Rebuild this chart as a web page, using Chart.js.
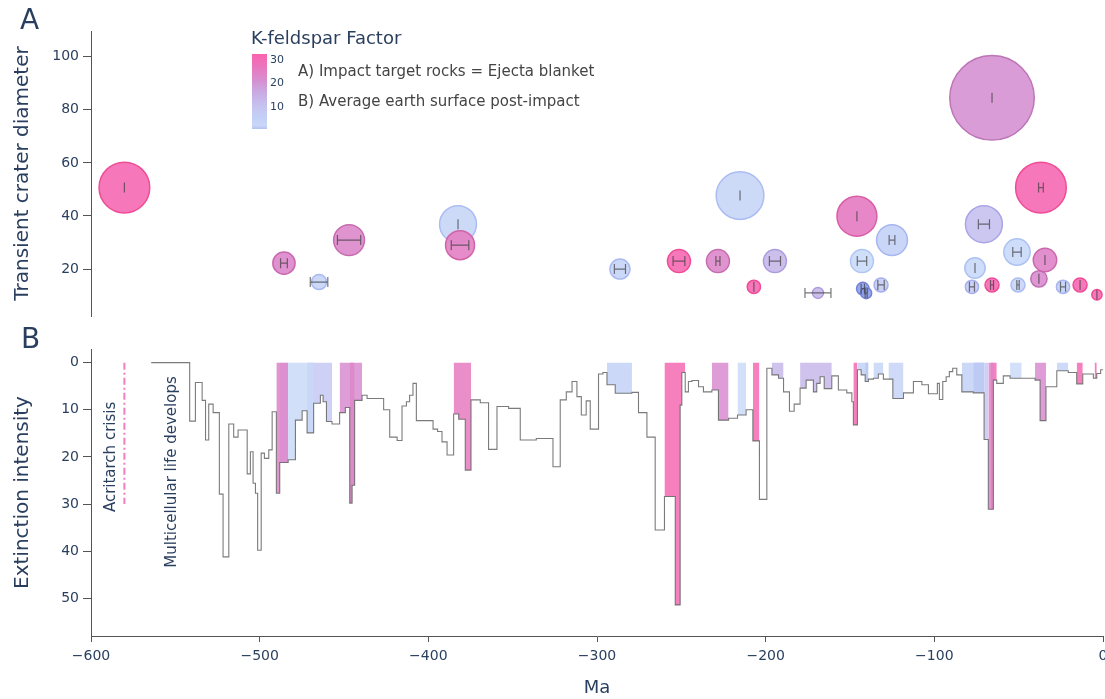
<!DOCTYPE html>
<html>
<head>
<meta charset="utf-8">
<script src="https://cdn.jsdelivr.net/npm/chart.js@4.4.0/dist/chart.umd.min.js"></script>
<style>
  body { margin: 0; background: #fff; }
  #wrap { position: relative; width: 1105px; height: 699px; }
  canvas { position: absolute; left: 0; }
  #top { top: 0; }
  #bottom { top: 320px; }
</style>
</head>
<body>
<div id="wrap">
  <canvas id="top" width="1105" height="320"></canvas>
  <canvas id="bottom" width="1105" height="379"></canvas>
</div>
<script>
// --- impacts (panel A) ---
const craterAge = [-580.2, -485.6, -464.8, -447.0, -382.4, -381.2, -286.4, -251.4, -228.3, -215.2, -207.0, -194.5, -169.0, -145.9, -142.9, -142.4, -140.4, -131.6, -125.1, -77.7, -75.9, -70.6, -65.8, -65.8, -51.0, -50.4, -38.0, -36.8, -34.4, -23.7, -13.6, -3.6];
const craterDiam = [50.7, 22.2, 15.1, 30.9, 36.9, 29.0, 20.0, 23.0, 23.0, 47.7, 13.3, 23.0, 11.0, 39.9, 23.0, 12.6, 10.9, 14.0, 30.9, 13.3, 20.4, 36.9, 84.5, 14.0, 26.4, 14.0, 16.3, 50.7, 23.4, 13.3, 14.0, 10.3];
const craterK = [31, 23.5, 4, 23, 3, 25, 4, 31, 23, 3, 31, 13, 13, 26, 1, 0, 0, 7, 5, 7, 2, 11, 21, 31, 2, 3, 22, 31, 24, 5, 31, 31];
const craterAgeErr = [0, 2, 5.2, 6.9, 0, 5.2, 3.3, 3.5, 1.2, 0, 0, 3.3, 7.7, 0, 2.8, 1.0, 0.6, 1.9, 1.7, 1.5, 0, 3.3, 0, 0.9, 2.5, 0.7, 0, 1.4, 0, 1.5, 0, 0];

// --- extinction intensity step series (panel B) ---
const stepStart = [-564.3, -541.5, -538.1, -534.1, -532.1, -530.2, -527.6, -523.9, -521.7, -518.3,
  -515.4, -512.8, -507.4, -505.5, -503.9, -502.5, -501.2, -499.1, -497.2, -494.6,
  -492.6, -490.1, -488.1, -483.1, -478.8, -474.8, -471.9, -468.0, -464.0, -462.4,
  -460.4, -457.1, -452.6, -449.2, -446.6, -445.2, -443.7, -439.3, -436.3, -426.5,
  -422.9, -418.5, -415.6, -413.0, -411.1, -409.1, -407.1, -397.2, -394.5, -391.9,
  -388.9, -385.0, -382.0, -378.1, -374.7, -369.2, -364.3, -359.3, -352.4, -345.5,
  -336.0, -326.1, -321.8, -318.2, -314.8, -311.9, -309.3, -306.4, -304.0, -299.1,
  -296.5, -294.1, -289.2, -279.3, -275.4, -270.4, -265.5, -260.0, -253.6, -250.7,
  -249.7, -247.7, -245.8, -243.7, -239.8, -236.9, -231.9, -228.0, -222.0, -216.7,
  -211.6, -207.6, -203.7, -199.3, -196.3, -192.4, -189.4, -185.9, -183.1, -179.6,
  -176.0, -171.7, -169.7, -167.7, -165.3, -160.8, -156.9, -151.9, -148.9, -148.0,
  -145.6, -143.4, -141.0, -139.1, -136.1, -133.2, -130.2, -124.6, -118.3, -112.4,
  -107.4, -103.5, -98.2, -97.0, -95.0, -93.0, -91.1, -89.1, -86.7, -83.7,
  -76.9, -70.5, -68.0, -65.0, -63.0, -59.1, -55.1, -40.3, -37.3, -33.8,
  -27.4, -20.6, -15.6, -12.0, -5.7, -3.7, -1.4];
const stepLevel = [0, 12.4, 4.2, 8.0, 16.4, 8.8, 10.6, 27.9, 41.2, 13.0,
  15.8, 14.3, 23.6, 18.9, 25.6, 27.7, 39.8, 19.2, 20.3, 18.5,
  10.4, 27.7, 21.2, 20.6, 12.2, 10.2, 14.9, 8.6, 6.9, 8.3,
  12.5, 13.0, 10.6, 9.5, 29.8, 26.0, 8.0, 6.9, 7.6, 10.0,
  15.8, 16.5, 9.2, 8.3, 6.9, 4.4, 12.3, 14.1, 14.6, 16.8,
  19.6, 10.9, 12.0, 22.8, 7.9, 8.5, 18.4, 9.3, 9.7, 16.4,
  16.1, 22.1, 7.9, 6.2, 4.0, 7.2, 11.1, 8.1, 14.1, 2.4,
  2.1, 4.7, 6.5, 6.3, 10.6, 15.8, 35.5, 28.4, 51.4, 9.0,
  2.1, 6.2, 4.0, 3.8, 5.1, 6.2, 5.8, 12.2, 11.8, 11.1,
  10.0, 16.6, 29.0, 1.2, 2.6, 3.3, 6.2, 10.3, 8.8, 5.4,
  3.7, 6.2, 4.4, 3.0, 5.5, 2.8, 5.8, 6.4, 8.3, 13.2,
  1.5, 2.6, 4.0, 3.5, 3.3, 2.4, 3.5, 7.6, 6.4, 4.0,
  4.7, 6.6, 4.4, 7.8, 4.0, 3.0, 1.9, 1.2, 2.6, 6.2,
  6.4, 16.3, 31.1, 3.7, 4.4, 2.8, 3.3, 3.7, 12.3, 5.1,
  1.7, 2.1, 4.5, 2.4, 3.3, 2.3, 1.5];
const stepEnd = 0;

// impact age windows shaded under the extinction curve
const fillFrom = [-490.1, -488.1, -471.9, -452.6, -446.6, -385.0, -294.1, -260.0, -231.9, -216.7, -207.6, -196.3, -179.6, -148.0, -145.6, -141.0, -136.1, -127.2, -83.7, -76.9, -70.5, -68.0, -66.5, -55.1, -40.3, -27.4, -15.6, -5.0];
const fillTo   = [-483.1, -468.0, -457.1, -439.3, -443.7, -374.7, -279.3, -247.7, -222.0, -211.6, -203.7, -189.4, -160.8, -145.6, -139.1, -139.1, -130.2, -118.3, -70.5, -70.5, -68.0, -65.0, -63.0, -48.2, -33.8, -20.6, -12.0, -3.7];
const fillK    = [24, 2, 8, 22, 30, 26, 5, 31, 22, 1, 31, 13, 13, 31, 5, 0, 3, 4, 5, 0, 8, 24, 31, 1, 22, 4, 31, 31];

const acritarchAge = -580.2;
const acritarchSpan = [0, 30];

// ticks
const xTicks = [-600, -500, -400, -300, -200, -100, 0];
const topTicks = [20, 40, 60, 80, 100];
const bottomTicks = [0, 10, 20, 30, 40, 50];
const barTicks = [10, 20, 30];

// K-feldspar colour scale
const kStops = [0, 1, 5, 11, 16, 22, 27, 33];
const kColours = ['#8e9fe8', '#cbdbf8', '#c3d1f6', '#c6c1ef', '#c8abe3', '#d88ccf', '#ea76bd', '#fb62ad'];

function hexRgb(h) { return [1, 3, 5].map(i => parseInt(h.substr(i, 2), 16)); }
function kRgb(k) {
  let i = 0;
  while (i < kStops.length - 2 && k > kStops[i + 1]) i++;
  const t = Math.min(1, Math.max(0, (k - kStops[i]) / (kStops[i + 1] - kStops[i])));
  const a = hexRgb(kColours[i]), b = hexRgb(kColours[i + 1]);
  return a.map((v, j) => Math.round(v + (b[j] - v) * t));
}
function kColour(k, alpha) {
  const c = kRgb(k);
  return `rgba(${c[0]},${c[1]},${c[2]},${alpha})`;
}
// rim: same hue, a little deeper
function kRim(k) {
  const c = kRgb(k).map(v => Math.round(v - Math.min(28, (255 - v) * 0.6)));
  return `rgb(${c[0]},${c[1]},${c[2]})`;
}

function stepPoints(from, to) {
  const pts = [];
  for (let i = 0; i < stepStart.length; i++) {
    const a = stepStart[i];
    const b = i + 1 < stepStart.length ? stepStart[i + 1] : stepEnd;
    const lo = Math.max(a, from), hi = Math.min(b, to);
    if (lo < hi) pts.push({ x: lo, y: stepLevel[i] }, { x: hi, y: stepLevel[i] });
  }
  return pts;
}

const FONT = '"DejaVu Sans", Verdana, sans-serif';
const TEXT = '#2a3f5f';
const AXIS = '#555';
Chart.defaults.font.family = FONT;
Chart.defaults.color = TEXT;

const minus = v => (v < 0 ? '\u2212' + Math.abs(v) : String(v));

function yAxis(ticks, title, extra) {
  return Object.assign({
    type: 'linear',
    afterBuildTicks: s => { s.ticks = ticks.map(v => ({ value: v })); },
    afterFit: s => { s.width = 91; s.paddingTop = 0; s.paddingBottom = 0; },
    ticks: { font: { size: 14 }, color: TEXT, padding: 4 },
    grid: { drawOnChartArea: false, tickLength: 8, color: AXIS },
    border: { display: true, color: AXIS, width: 1 },
    title: { display: true, text: title, font: { size: 20 }, color: TEXT, padding: { top: 11, bottom: 0 } }
  }, extra);
}

// error bars on the bubbles (age uncertainty)
const errorBars = {
  id: 'errorBars',
  afterDatasetsDraw(chart) {
    const { ctx, scales: { x, y } } = chart;
    ctx.save();
    ctx.strokeStyle = 'rgba(60,60,60,0.7)';
    ctx.lineWidth = 1.2;
    craterAge.forEach((age, i) => {
      const err = craterAgeErr[i];
      const x0 = x.getPixelForValue(age - err), x1 = x.getPixelForValue(age + err);
      const py = y.getPixelForValue(craterDiam[i]);
      ctx.beginPath();
      ctx.moveTo(x0, py); ctx.lineTo(x1, py);
      ctx.moveTo(x0, py - 5); ctx.lineTo(x0, py + 5);
      ctx.moveTo(x1, py - 5); ctx.lineTo(x1, py + 5);
      ctx.stroke();
    });
    ctx.restore();
  }
};

// colour bar, panel letter and notes for panel A
const topDecor = {
  id: 'topDecor',
  afterDraw(chart) {
    const { ctx } = chart;
    ctx.save();
    const bx = 252, bw = 15, bTop = 54, bBot = 129, kLo = 0.6, kHi = 32.6;
    const kToY = k => bBot - (k - kLo) / (kHi - kLo) * (bBot - bTop);
    const g = ctx.createLinearGradient(0, bBot, 0, bTop);
    for (let s = 0; s <= 20; s++) {
      const k = kLo + (kHi - kLo) * s / 20;
      g.addColorStop(s / 20, kColour(k, 1));
    }
    ctx.fillStyle = g;
    ctx.fillRect(bx, bTop, bw, bBot - bTop);

    ctx.fillStyle = TEXT;
    ctx.textBaseline = 'middle';
    ctx.font = '11px ' + FONT;
    barTicks.forEach(k => ctx.fillText(String(k), bx + bw + 3, kToY(k)));

    ctx.font = '18px ' + FONT;
    ctx.fillText('K-feldspar Factor', 251, 39);

    ctx.fillStyle = '#444';
    ctx.font = '15px ' + FONT;
    ctx.fillText('A) Impact target rocks = Ejecta blanket', 298, 72);
    ctx.fillText('B) Average earth surface post-impact', 298, 102);

    ctx.fillStyle = TEXT;
    ctx.font = '28px ' + FONT;
    ctx.fillText('A', 20, 22);
    ctx.restore();
  }
};

const bottomDecor = {
  id: 'bottomDecor',
  afterDraw(chart) {
    const { ctx, scales: { x, y } } = chart;
    ctx.save();
    ctx.fillStyle = TEXT;
    ctx.textBaseline = 'middle';
    ctx.font = '28px ' + FONT;
    ctx.fillText('B', 21, 21);

    ctx.font = '15px ' + FONT;
    ctx.textAlign = 'center';
    const note = (text, age, level) => {
      ctx.save();
      ctx.translate(x.getPixelForValue(age), y.getPixelForValue(level));
      ctx.rotate(-Math.PI / 2);
      ctx.fillText(text, 0, 0);
      ctx.restore();
    };
    note('Acritarch crisis', -587.9, 20);
    note('Multicellular life develops', -551.7, 23.2);
    ctx.restore();
  }
};

new Chart(document.getElementById('top'), {
  type: 'bubble',
  data: {
    datasets: [{
      data: craterAge.map((a, i) => ({ x: a, y: craterDiam[i], r: craterDiam[i] / 2 })),
      backgroundColor: c => kColour(craterK[c.dataIndex], 0.9),
      borderColor: c => kRim(craterK[c.dataIndex]),
      borderWidth: 1.5,
      clip: false
    }]
  },
  options: {
    responsive: false,
    animation: false,
    layout: { autoPadding: false, padding: { top: 31, bottom: 4, left: 0, right: 2 } },
    plugins: { legend: { display: false }, tooltip: { enabled: false } },
    scales: {
      x: { type: 'linear', min: -600, max: 0, display: false },
      y: yAxis(topTicks, 'Transient crater diameter', { min: 2.3, max: 109.7 })
    }
  },
  plugins: [errorBars, topDecor]
});

const fillSets = fillFrom.map((f, i) => ({
  data: stepPoints(f, fillTo[i]),
  borderWidth: 0,
  pointRadius: 0,
  fill: 'origin',
  backgroundColor: kColour(fillK[i], 0.85),
  order: 2
}));

new Chart(document.getElementById('bottom'), {
  type: 'line',
  data: {
    datasets: [
      {
        data: stepPoints(-Infinity, Infinity),
        borderColor: 'rgba(100,100,100,0.85)',
        borderWidth: 1.1,
        pointRadius: 0,
        fill: false,
        order: 0
      },
      {
        data: acritarchSpan.map(v => ({ x: acritarchAge, y: v })),
        borderColor: '#f27ec2',
        borderWidth: 2,
        borderDash: [7, 3, 2, 3],
        pointRadius: 0,
        fill: false,
        order: 1
      },
      ...fillSets
    ]
  },
  options: {
    responsive: false,
    animation: false,
    layout: { autoPadding: false, padding: { top: 29, bottom: 0, left: 0, right: 2 } },
    plugins: { legend: { display: false }, tooltip: { enabled: false } },
    scales: {
      x: {
        type: 'linear', min: -600, max: 0,
        afterBuildTicks: s => { s.ticks = xTicks.map(v => ({ value: v })); },
        afterFit: s => { s.height = 63; s.paddingLeft = 0; s.paddingRight = 0; },
        ticks: { font: { size: 14 }, color: TEXT, padding: 6, maxRotation: 0, callback: v => minus(v) },
        grid: { drawOnChartArea: false, tickLength: 6, color: AXIS },
        border: { display: true, color: AXIS, width: 1 },
        title: { display: true, text: 'Ma', font: { size: 18 }, color: TEXT, padding: { top: 0, bottom: 0 } }
      },
      y: yAxis(bottomTicks, 'Extinction intensity', { min: -2.9, max: 58, reverse: true })
    }
  },
  plugins: [bottomDecor]
});
</script>
</body>
</html>
